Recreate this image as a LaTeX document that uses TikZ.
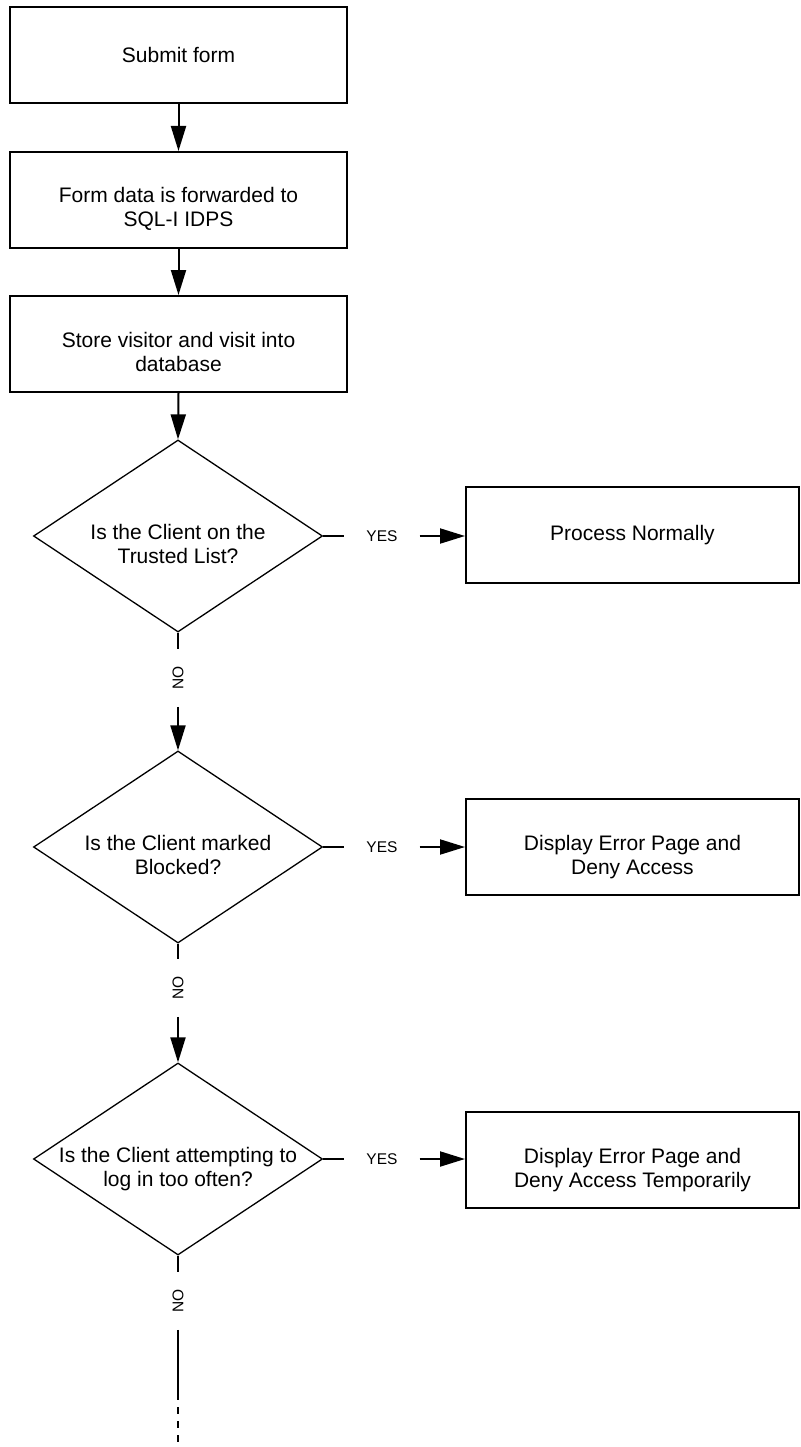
\documentclass[tikz,border=0pt]{standalone}
\usepackage{fontspec}
\setmainfont{Liberation Sans}
\usetikzlibrary{shapes.geometric,arrows.meta}
\newcommand{\topst}{\rule{0pt}{35pt}}
\newcommand{\botst}{\rule[-5pt]{0pt}{5pt}}
\begin{document}
\begin{tikzpicture}[x=1pt,y=-1pt,
  every node/.style={font=\fontsize{21}{24}\selectfont},
  box/.style={draw, line width=2pt, minimum width=337pt, minimum height=96pt, inner sep=0pt, align=center},
  rbox/.style={box, minimum width=333pt},
  dia/.style={draw, diamond, line width=1.3pt, minimum width=289pt, minimum height=192pt, inner sep=0pt},
  dtext/.style={inner sep=0pt, align=center},
  lab/.style={font=\fontsize{15.5}{18}\selectfont, inner ysep=0pt},
  yes/.style={lab, inner xsep=22pt},
  no/.style={lab, rotate=90, inner xsep=17pt},
  flow/.style={line width=2pt, -{Triangle[length=25pt,width=15pt]}},
  conn/.style={line width=2pt}
]
\fill[white] (0,0) rectangle (800,1447);
\useasboundingbox (0,0) rectangle (800,1447);

% left column boxes
\node[box] (b1) at (178.5,55) {Submit form};
\node[box] (b2) at (178.5,200) {\topst Form data is forwarded to\\SQL-I IDPS\botst};
\node[box] (b3) at (178.5,344) {\topst Store visitor and visit into\\database\botst};

% decisions
\node[dia] (d1) at (178,536) {};
\node[dtext] (d1t) at (d1) {\topst Is the Client on the\\Trusted List?\botst};
\node[dia] (d2) at (178,847) {};
\node[dtext] (d2t) at (d2) {\topst Is the Client marked\\Blocked?\botst};
\node[dia] (d3) at (178,1159) {};
\node[dtext] (d3t) at (d3) {\topst Is the Client attempting to\\log in too often?\botst};

% right boxes
\node[rbox] (r1) at (632.5,535) {Process Normally};
\node[rbox] (r2) at (632.5,847) {\topst Display Error Page and\\Deny Access\botst};
\node[rbox] (r3) at (632.5,1160) {\topst Display Error Page and\\Deny Access Temporarily\botst};

% labels
\node[yes] (y1) at (382,536) {YES};
\node[yes] (y2) at (382,847) {YES};
\node[yes] (y3) at (382,1159) {YES};
\node[no] (n1) at (178,678) {NO};
\node[no] (n2) at (178,988) {NO};
\node[no] (n3) at (178,1301) {NO};

\coordinate (e1) at (178,1400);
\coordinate (e2) at (178,1443);

% connectors
\draw[flow] (b1.south) -- (b2.north);
\draw[flow] (b2.south) -- (b3.north);
\draw[flow] (b3.south) -- (d1.north);

\draw[conn] (d1.east) -- (y1.west);
\draw[flow] (y1.east) -- (r1.west |- y1.east);
\draw[conn] (d2.east) -- (y2.west);
\draw[flow] (y2.east) -- (r2.west);
\draw[conn] (d3.east) -- (y3.west);
\draw[flow] (y3.east) -- (r3.west |- y3.east);

\draw[conn] (d1.south) -- (n1);
\draw[flow] (n1) -- (d2.north);
\draw[conn] (d2.south) -- (n2);
\draw[flow] (n2) -- (d3.north);
\draw[conn] (d3.south) -- (n3);
\draw[conn] (n3) -- (e1);
\draw[conn, dash pattern=on 7pt off 7pt, dash phase=7pt] (e1) -- (e2);
\end{tikzpicture}
\end{document}
